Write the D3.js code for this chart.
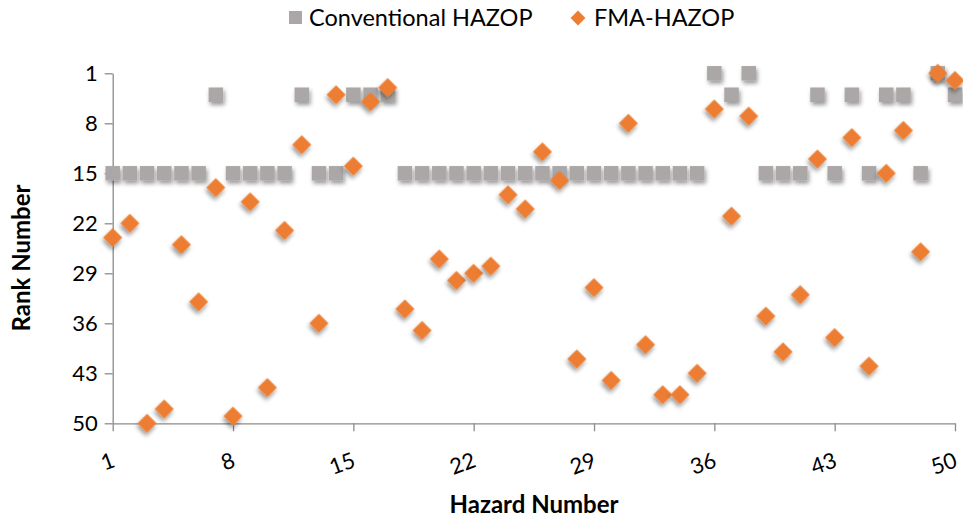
<!DOCTYPE html>
<html>
<head>
<meta charset="utf-8">
<script src="https://cdn.jsdelivr.net/npm/d3@7"></script>
<style>
  body { margin: 0; background: #fff; }
  svg { font-family: Lato, "Open Sans", sans-serif; }
</style>
</head>
<body>
<div class="chart"></div>
<script>
    // hazard numbers 1..50 and the two rankings
    const hazards = d3.range(1, 51);
    const conventional = [15,15,15,15,15,15,4,15,15,15, 15,4,15,15,4,4,4,15,15,15,
                          15,15,15,15,15,15,15,15,15,15, 15,15,15,15,15,1,4,1,15,15,
                          15,4,15,4,15,4,4,15,1,4];
    const fma = [24,22,50,48,25,33,17,49,19,45, 23,11,36,4,14,5,3,34,37,27,
                 30,29,28,18,20,12,16,41,31,44, 8,39,46,46,43,6,21,7,35,40,
                 32,13,38,10,42,15,9,26,1,2];
    const tickVals = [1, 8, 15, 22, 29, 36, 43, 50];
    const seriesNames = ["Conventional HAZOP", "FMA-HAZOP"];

    const width = 963, height = 519;
    const margin = ({top: 73.3, right: 8, bottom: 95.7, left: 112.7});

    const svg = d3.select('.chart').append('svg')
        .attr("width", width)
        .attr("height", height);

    // soft drop shadow like the Excel markers
    const filt = svg.append("defs").append("filter")
        .attr("id", "shadow")
        .attr("x", "-50%").attr("y", "-50%")
        .attr("width", "200%").attr("height", "200%");
    filt.append("feDropShadow")
        .attr("dx", 1.5).attr("dy", 3)
        .attr("stdDeviation", 2)
        .attr("flood-color", "#000")
        .attr("flood-opacity", 0.4);

    const xScale = d3.scaleLinear()
        .domain([1, 50])
        .range([margin.left, width - margin.right]);

    const yScale = d3.scaleLinear()
        .domain([1, 50])
        .range([margin.top, height - margin.bottom]);

    const xAxis = d3.axisBottom(xScale)
        .tickValues(tickVals)
        .tickSize(8)
        .tickSizeOuter(0)
        .tickFormat(d3.format("d"));

    const yAxis = d3.axisLeft(yScale)
        .tickValues(tickVals)
        .tickSize(8)
        .tickSizeOuter(0)
        .tickFormat(d3.format("d"));

    const gx = svg.append("g")
        .attr("class", "axis x-axis")
        .attr("transform", `translate(0, ${yScale(50)})`)
        .call(xAxis);

    const gy = svg.append("g")
        .attr("class", "axis y-axis")
        .attr("transform", `translate(${xScale(1)}, 0)`)
        .call(yAxis);

    svg.selectAll(".axis path, .axis line")
        .attr("stroke", "#8c8c8c")
        .attr("stroke-width", 1.3);

    gy.selectAll("text")
        .attr("x", -15)
        .attr("font-size", "22px")
        .attr("font-family", "Lato, sans-serif")
        .attr("fill", "#000");

    gx.selectAll("text")
        .attr("font-size", "22px")
        .attr("font-family", "Lato, sans-serif")
        .attr("fill", "#000")
        .attr("text-anchor", "end")
        .attr("dy", null)
        .attr("y", null)
        .attr("transform", "translate(3, 43) rotate(-20)");

    // conventional HAZOP squares
    const sq = 14.5;
    svg.append("g")
        .selectAll("rect")
        .data(hazards)
        .join("rect")
        .attr("x", d => xScale(d) - sq / 2)
        .attr("y", (d, i) => yScale(conventional[i]) - sq / 2)
        .attr("width", sq)
        .attr("height", sq)
        .attr("fill", "#aba7a7")
        .attr("filter", "url(#shadow)");

    // FMA-HAZOP diamonds
    const dm = d3.symbol().type(d3.symbolSquare).size(180);
    svg.append("g")
        .selectAll("path")
        .data(hazards)
        .join("path")
        .attr("d", dm)
        .attr("transform", (d, i) => `translate(${xScale(d)},${yScale(fma[i])}) rotate(45)`)
        .attr("fill", "#ed7d31")
        .attr("filter", "url(#shadow)");

    // axis titles
    svg.append("text")
        .attr("x", 534)
        .attr("y", 513)
        .attr("text-anchor", "middle")
        .attr("font-size", "24px")
        .attr("font-weight", "bold")
        .attr("fill", "#000")
        .text("Hazard Number");

    svg.append("text")
        .attr("transform", "translate(30, 258) rotate(-90)")
        .attr("text-anchor", "middle")
        .attr("font-size", "24px")
        .attr("font-weight", "bold")
        .attr("fill", "#000")
        .text("Rank Number");

    // legend
    const legend = svg.append("g").attr("font-size", "23.5px").attr("fill", "#000");
    legend.append("rect")
        .attr("x", 289).attr("y", 11)
        .attr("width", 13).attr("height", 13)
        .attr("fill", "#aba7a7");
    legend.append("text")
        .attr("x", 309).attr("y", 26)
        .text(seriesNames[0]);
    legend.append("path")
        .attr("d", d3.symbol().type(d3.symbolSquare).size(110))
        .attr("transform", "translate(578, 18) rotate(45)")
        .attr("fill", "#ed7d31");
    legend.append("text")
        .attr("x", 594).attr("y", 26)
        .text(seriesNames[1]);
</script>
</body>
</html>
